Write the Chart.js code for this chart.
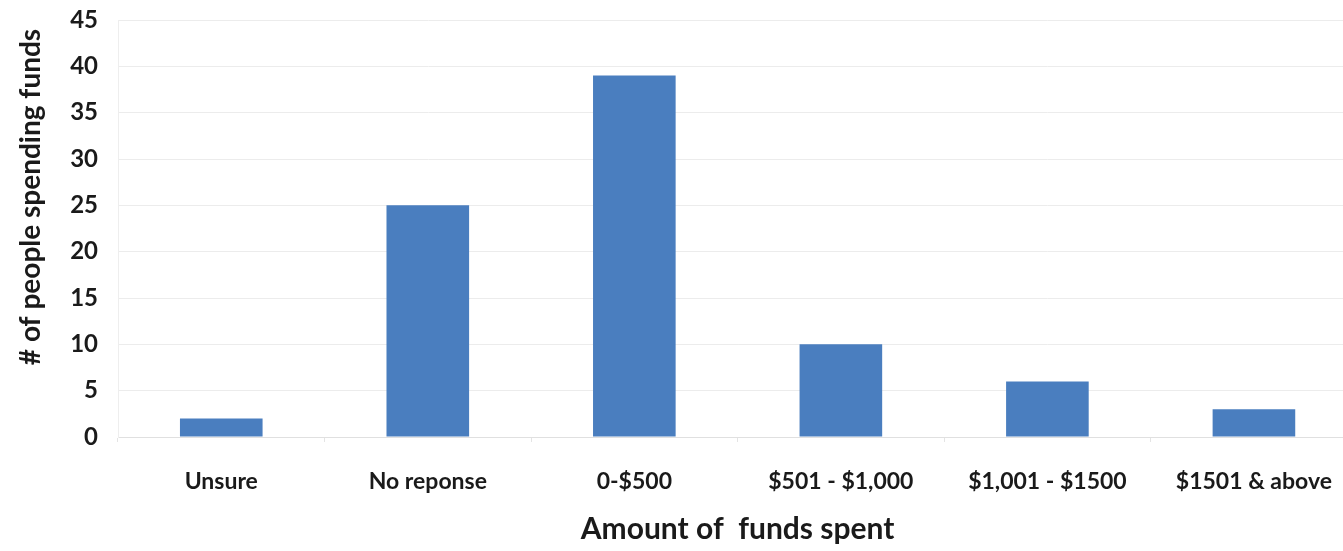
<!DOCTYPE html>
<html>
<head>
<meta charset="utf-8">
<script src="https://cdn.jsdelivr.net/npm/chart.js@4.4.1/dist/chart.umd.min.js"></script>
<style>
html, body { margin: 0; padding: 0; background: #fff; overflow: hidden; }
#wrap { width: 1343px; height: 551px; overflow: hidden; }
</style>
</head>
<body>
<div id="wrap"><canvas id="chart" width="1358" height="551"></canvas></div>
<script>
const categories = ['Unsure', 'No reponse', '0-$500', '$501 - $1,000', '$1,001 - $1500', '$1501 & above'];
const peopleCounts = [2, 25, 39, 10, 6, 3];
const yTicks = [0, 5, 10, 15, 20, 25, 30, 35, 40, 45];
const yTitle = '# of people spending funds';

const font = 'Lato, "Open Sans", sans-serif';

// y title drawn by hand so it can sit a bit above the axis centre, as in the original
const yTitlePlugin = {
  id: 'yTitle',
  afterDraw(c) {
    const g = c.ctx;
    g.save();
    g.translate(31, 197);
    g.rotate(-Math.PI / 2);
    g.font = 'bold 28px ' + font;
    g.fillStyle = '#1a1a1a';
    g.textAlign = 'center';
    g.textBaseline = 'middle';
    g.fillText(yTitle, 0, 0);
    g.restore();
  }
};

const ctx = document.getElementById('chart');
const chart = new Chart(ctx, {
  type: 'bar',
  data: {
    labels: categories,
    datasets: [
      { label: 'People', data: peopleCounts, backgroundColor: '#4a7ebf', categoryPercentage: 1, barPercentage: 0.4 }
    ]
  },
  options: {
    responsive: false,
    animation: false,
    layout: { padding: { top: 20, right: 0, left: 0, bottom: 0 } },
    plugins: { legend: { display: false }, tooltip: { enabled: false } },
    scales: {
      x: {
        grid: { drawOnChartArea: false, drawTicks: true, tickLength: 5, color: '#e4e4e4', offset: true },
        border: { color: '#e0e0e0' },
        ticks: { color: '#1a1a1a', font: { family: font, size: 23, weight: 'bold' }, padding: 26, maxRotation: 0 },
        title: { display: true, text: 'Amount of  funds spent', color: '#1a1a1a', font: { family: font, size: 30, weight: 'bold' }, padding: { top: 0, bottom: 4 } },
        afterFit: s => { s.height = 114; }
      },
      y: {
        min: 0, max: 45,
        afterBuildTicks: s => { s.ticks = yTicks.map(v => ({ value: v })); },
        grid: { color: '#ececec', drawTicks: false },
        border: { color: '#eeeeee' },
        ticks: { color: '#1a1a1a', font: { family: font, size: 24, weight: 'bold' }, padding: 20 },
        afterFit: s => { s.width = 118; s.paddingTop = 0; s.paddingBottom = 0; }
      }
    }
  },
  plugins: [yTitlePlugin]
});
</script>
</body>
</html>
